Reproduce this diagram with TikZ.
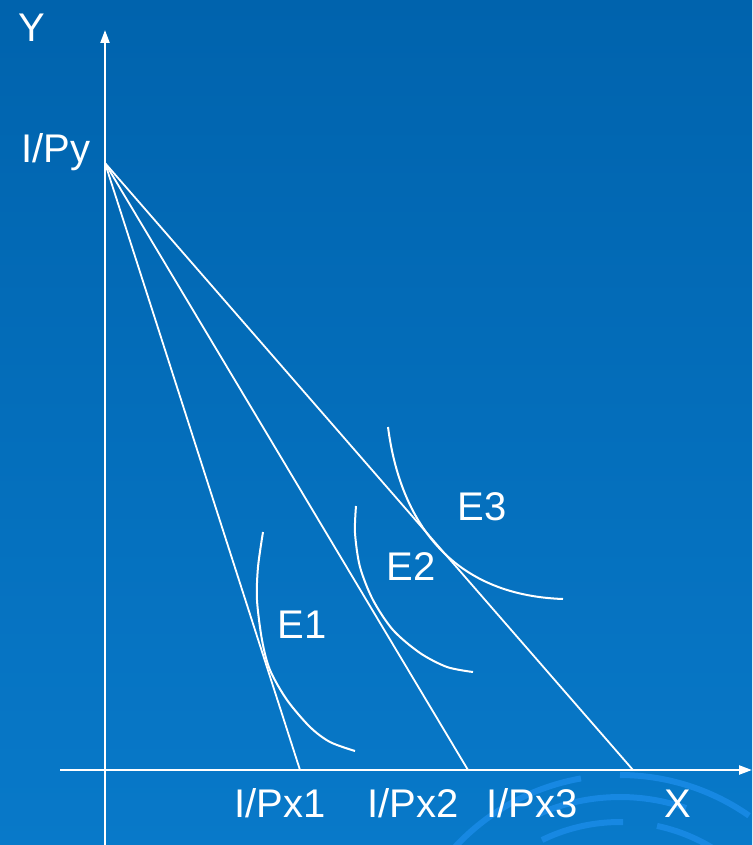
\documentclass[tikz,border=0pt]{standalone}
\usepackage{fontspec}
\setmainfont{Liberation Sans}
\usetikzlibrary{arrows.meta}
\definecolor{bgtop}{HTML}{0063AD}
\definecolor{bgbot}{HTML}{0879C9}
\definecolor{deco}{HTML}{1788E2}
\tikzset{
  axis/.style={white, line width=2.2pt, -{Triangle[length=13pt,width=9pt]}},
  budget/.style={white, line width=1.8pt},
  indiff/.style={white, line width=2pt, smooth},
  lbl/.style={white, font=\fontsize{40}{40}\selectfont, anchor=base, inner sep=0pt},
  decoarc/.style={deco, line width=6pt}
}
\begin{document}
\begin{tikzpicture}[x=1pt,y=-1pt]
\useasboundingbox (0,0) rectangle (752,845);
\shade[top color=bgtop, bottom color=bgbot] (0,0) rectangle (752,845);
% background decoration
\begin{scope}
\clip (0,0) rectangle (752,845);
\draw[decoarc] plot[domain=138:100, samples=30] ({620+225*cos(\x)},{1000-225*sin(\x)});
\draw[decoarc] plot[domain=90:55, samples=30] ({620+225*cos(\x)},{1000-225*sin(\x)});
\draw[decoarc] plot[domain=114:71, samples=30] ({620+203*cos(\x)},{1000-203*sin(\x)});
\draw[decoarc] plot[domain=116:89, samples=30] ({620+178*cos(\x)},{1000-178*sin(\x)});
\draw[decoarc] plot[domain=78:30, samples=30] ({620+178*cos(\x)},{1000-178*sin(\x)});
\end{scope}
% coordinates
\coordinate (ybot) at (105,845);
\coordinate (ytop) at (105,30);
\coordinate (xl) at (60,770);
\coordinate (xr) at (752,770);
\coordinate (O) at (105,163);
\coordinate (A1) at (300,770);
\coordinate (A2) at (468,770);
\coordinate (A3) at (633,770);
% axes
\draw[axis] (ybot) -- (ytop);
\draw[axis] (xl) -- (xr);
% budget lines
\draw[budget] (O) -- (A1);
\draw[budget] (O) -- (A2);
\draw[budget] (O) -- (A3);
% indifference curves
\draw[indiff] plot coordinates {(263,532) (258,567) (257,600) (262,640) (270,670) (287,700) (310,727) (330,742) (355,751)};
\draw[indiff] plot coordinates {(356,506) (355,533) (360,567) (373,600) (393,630) (420,653) (447,667) (473,672)};
\draw[white, line width=2pt] (388,427) .. controls (400,520) and (450,595) .. (563,599);
% labels
\node[lbl] (ly) at (32,42) {Y};
\node[lbl] (lpy) at (56,163) {I/Py};
\node[lbl] (le1) at (302,638) {E1};
\node[lbl] (le2) at (411,580) {E2};
\node[lbl] (le3) at (482,520) {E3};
\node[lbl] (lx1) at (280,817) {I/Px1};
\node[lbl] (lx2) at (413,817) {I/Px2};
\node[lbl] (lx3) at (532,817) {I/Px3};
\node[lbl] (lx) at (678,817) {X};
\end{tikzpicture}
\end{document}
